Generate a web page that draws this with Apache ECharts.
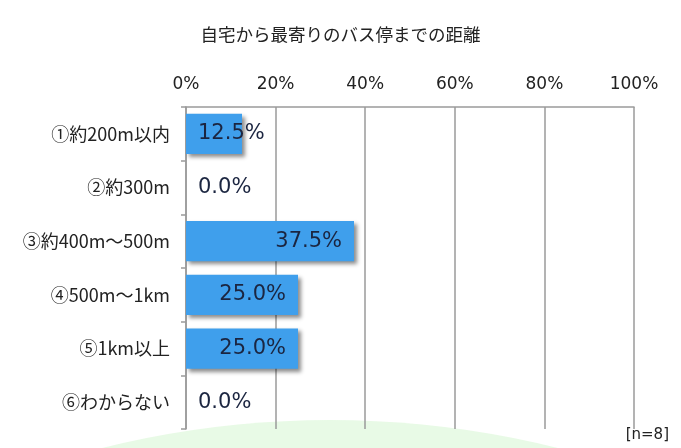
<!DOCTYPE html>
<html><head><meta charset="utf-8">
<script src="https://cdn.jsdelivr.net/npm/echarts@6/dist/echarts.min.js"></script>
<style>html,body{margin:0;padding:0;background:#fff}#c{width:681px;height:448px}</style>
</head><body><div id="c"></div>
<script>
const titleText = '自宅から最寄りのバス停までの距離';
const categories = ['①約200m以内','②約300m','③約400m～500m','④500m～1km','⑤1km以上','⑥わからない'];
const values = [12.5, 0.0, 37.5, 25.0, 25.0, 0.0];
const noteText = '[n=8]';

const FONT = '"Noto Sans CJK JP", "Noto Sans", sans-serif';
const NUMFONT = '"DejaVu Sans", "Noto Sans CJK JP", sans-serif';
const chart = echarts.init(document.getElementById('c'), null, {renderer:'canvas'});
const data = values.map(v => ({
  value: v,
  label: { position: (v < 20) ? 'insideLeft' : 'insideRight', distance: (v < 20) ? 12 : 12 }
}));
chart.setOption({
  backgroundColor: '#ffffff',
  animation: false,
  graphic: [
    { type: 'circle', z: -10, silent: true, shape: { cx: 330, cy: 1360, r: 940 },
      style: { fill: 'rgba(205,245,200,0.45)' } },
    { type: 'text', right: 12, top: 428, style: { text: noteText, font: '15px "DejaVu Sans"', fill: '#222' } }
  ],
  title: { text: titleText, left: 'center', top: 21,
    textStyle: { fontFamily: FONT, fontSize: 17.5, fontWeight: 'normal', color: '#222' } },
  grid: { left: 186, right: 47, top: 107, bottom: 19, containLabel: false },
  xAxis: {
    type: 'value', position: 'top', min: 0, max: 100, interval: 20,
    axisLine: { show: true, lineStyle: { color: '#9a9a9a', width: 1.5 } },
    axisTick: { show: false },
    splitLine: { show: true, lineStyle: { color: '#9a9a9a', width: 1.5 } },
    axisLabel: { formatter: '{value}%', margin: 14, fontFamily: NUMFONT, fontSize: 17, color: '#222' }
  },
  yAxis: {
    type: 'category', inverse: true, data: categories,
    axisLine: { show: true, lineStyle: { color: '#9a9a9a', width: 1.5 } },
    axisTick: { show: true, inside: false, length: 5, lineStyle: { color: '#9a9a9a', width: 1.5 } },
    axisLabel: { margin: 16, fontFamily: FONT, fontSize: 18, color: '#222' }
  },
  series: [{
    type: 'bar', data: data, barCategoryGap: '25%',
    itemStyle: { color: '#3f9fec', shadowColor: 'rgba(0,0,0,0.45)', shadowBlur: 4, shadowOffsetX: 3, shadowOffsetY: 3 },
    label: { show: true, formatter: p => p.value.toFixed(1) + '%',
      fontFamily: NUMFONT, fontSize: 21, color: '#1b2540' }
  }]
});
</script></body></html>
